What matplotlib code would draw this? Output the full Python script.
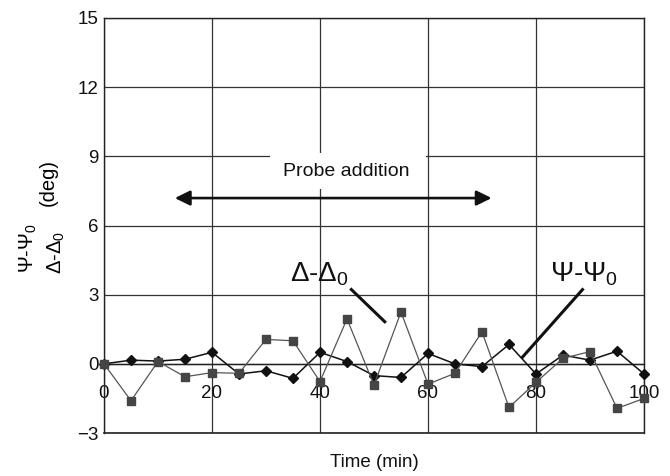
import matplotlib
matplotlib.use("Agg")
import matplotlib.pyplot as plt
from matplotlib.patches import Rectangle, FancyArrowPatch

plt.rcParams['font.family'] = ['Liberation Sans', 'DejaVu Sans']
plt.rcParams['mathtext.fontset'] = 'custom'
plt.rcParams['mathtext.rm'] = 'Liberation Sans'
plt.rcParams['mathtext.it'] = 'Liberation Sans'

time_min = [0, 5, 10, 15, 20, 25, 30, 35, 40, 45, 50, 55, 60, 65, 70, 75, 80, 85, 90, 95, 100]
psi = [0.0, 0.16, 0.12, 0.2, 0.5, -0.44, -0.3, -0.63, 0.5, 0.1, -0.51, -0.59, 0.45, 0.0, -0.12, 0.84, -0.44, 0.38, 0.16, 0.55, -0.44]
delta = [0.0, -1.6, 0.1, -0.56, -0.38, -0.41, 1.06, 1.0, -0.77, 1.95, -0.92, 2.25, -0.88, -0.41, 1.39, -1.89, -0.8, 0.24, 0.53, -1.93, -1.5]
xticks = [0, 20, 40, 60, 80, 100]
yticks = [-3, 0, 3, 6, 9, 12, 15]

fig = plt.figure(figsize=(6.7, 4.76), dpi=100)
ax = fig.add_axes([0.1552, 0.0903, 0.8060, 0.8719])
ax.set_xlim(0, 100)
ax.set_ylim(-3, 15)

ax.set_xticks(xticks)
ax.set_yticks(yticks)
ax.set_yticklabels(['\u22123' if v < 0 else str(v) for v in yticks])
ax.grid(True, color='#333333', linewidth=0.9)
ax.set_axisbelow(True)
for s in ['top', 'right', 'left']:
    ax.spines[s].set_color('#222222')
    ax.spines[s].set_linewidth(1.0)
ax.spines['bottom'].set_position(('data', 0))
ax.spines['bottom'].set_color('#222222')
ax.spines['bottom'].set_linewidth(1.0)
ax.axhline(-3, color='#222222', linewidth=1.2, clip_on=False)
ax.tick_params(axis='both', length=0, labelsize=13.5, colors='#111111')
ax.tick_params(axis='x', pad=15)
ax.tick_params(axis='y', pad=4)

ax.plot(time_min, psi, color='#111111', linewidth=1.1, marker='D', markersize=5.5,
        zorder=3, clip_on=False)
ax.plot(time_min, delta, color='#555555', linewidth=0.9, marker='s', markersize=5.2,
        markerfacecolor='#454545', markeredgecolor='#454545', zorder=4, clip_on=False)

# Probe addition annotation
ax.add_patch(Rectangle((30.7, 7.6), 29.0, 1.55, facecolor='white', edgecolor='none', zorder=1))
ax.text(44.8, 8.35, 'Probe addition', ha='center', va='center', fontsize=14, color='#111111', zorder=5)
ax.add_patch(FancyArrowPatch((12.6, 7.19), (72.3, 7.19),
                             arrowstyle='<|-|>,head_length=0.65,head_width=0.32',
                             mutation_scale=14, color='#111111', lw=1.9, zorder=5))

# Series labels
ax.text(34.4, 3.55, '\u0394-\u0394$_0$', fontsize=20, ha='left', va='baseline', color='#111111')
ax.plot([45.6, 52.2], [3.27, 1.78], color='#111111', lw=2.2, zorder=5, solid_capstyle='butt')
ax.text(82.6, 3.55, '\u03a8-\u03a8$_0$', fontsize=20, ha='left', va='baseline', color='#111111')
ax.plot([88.8, 77.3], [3.27, 0.24], color='#111111', lw=2.2, zorder=5, solid_capstyle='butt')

ax.set_xlabel('Time (min)', fontsize=13.5, color='#111111', va='center')
ax.xaxis.set_label_coords(0.5, -0.072, transform=ax.transAxes)

fig.text(0.042, 0.479, '\u03a8-\u03a8$_0$', rotation=90, ha='center', va='center', fontsize=14.5)
fig.text(0.084, 0.470, '\u0394-\u0394$_0$', rotation=90, ha='center', va='center', fontsize=14.5)
fig.text(0.072, 0.617, '(deg)', rotation=90, ha='center', va='center', fontsize=14.5)

fig.savefig('out.png', dpi=100)
